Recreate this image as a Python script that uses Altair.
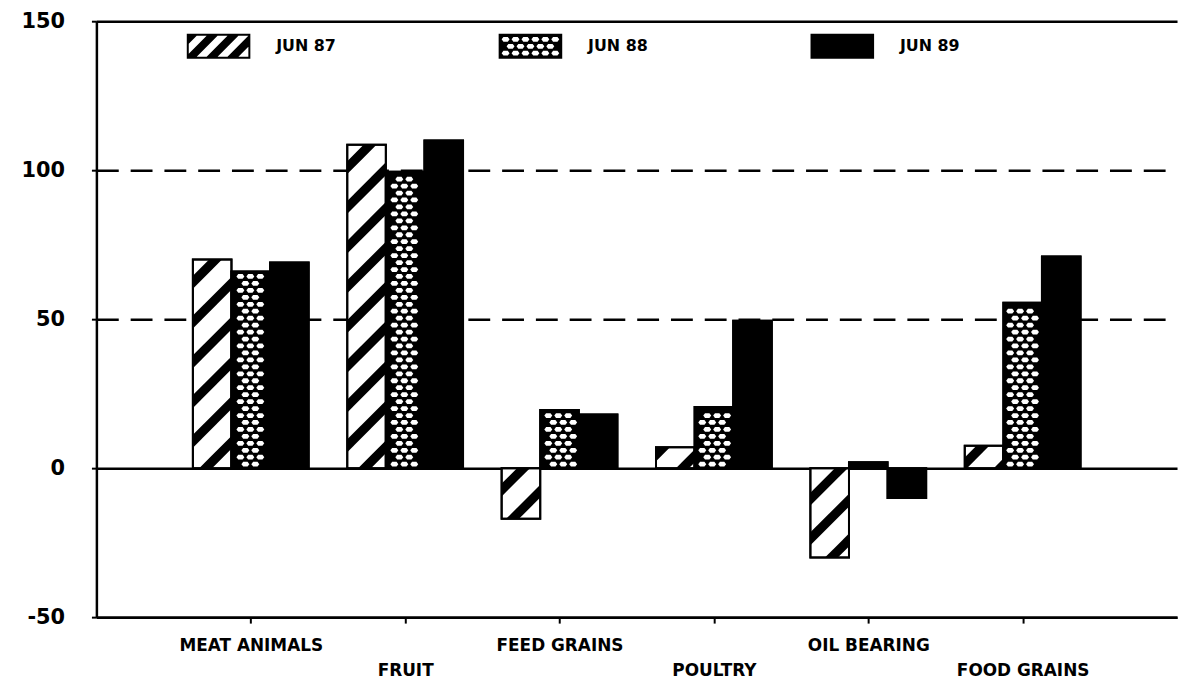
import json
import altair as alt
import numpy as np
import pandas as pd

# ---------------- data ----------------
categories = ["MEAT ANIMALS", "FRUIT", "FEED GRAINS", "POULTRY", "OIL BEARING", "FOOD GRAINS"]
series = ["JUN 87", "JUN 88", "JUN 89"]
jun87 = [70, 108.5, -17, 7, -30, 7.5]
jun88 = [66, 99.5, 19.5, 20.5, 2, 55.5]
jun89 = [69, 110, 18, 49.5, -10, 71]
y_ticks = [-50, 0, 50, 100, 150]

# ---------------- layout / style ----------------
W, H = 1088, 600
X_DOMAIN = [0, 7]
Y_DOMAIN = [-50, 150]
U = W / (X_DOMAIN[1] - X_DOMAIN[0])   # px per x unit
V = H / (Y_DOMAIN[1] - Y_DOMAIN[0])   # px per y unit
BAR_W = 0.25
FONT = "DejaVu Sans"

rows = []
for i, cat in enumerate(categories):
    for j, (s, vals) in enumerate(zip(series, [jun87, jun88, jun89])):
        x0 = (i + 1) - 1.5 * BAR_W + j * BAR_W
        rows.append(dict(category=cat, series=s, x=x0, xe=x0 + BAR_W, y=vals[i], y0=0))
bars = pd.DataFrame(rows)


def px(xd):
    return (xd - X_DOMAIN[0]) * U


def py(v):
    return (v - Y_DOMAIN[0]) * V


# diagonal hatch ("/") for JUN 87 bars, as filled area stripes
STEP, THICK = 40.0, 13.0
stripe_rows = []
sid = 0
for r in bars[bars.series == "JUN 87"].itertuples():
    X0, X1 = px(r.x), px(r.xe)
    lo, hi = sorted([py(0), py(r.y)])
    k0 = int(np.floor((lo - X1 - THICK) / STEP)) - 1
    k1 = int(np.ceil((hi - X0 + THICK) / STEP)) + 1
    for k in range(k0, k1 + 1):
        clo, chi = k * STEP - THICK / 2, k * STEP + THICK / 2
        xs = {X0, X1, lo - clo, hi - clo, lo - chi, hi - chi}
        xs = sorted(x for x in xs if X0 - 1e-9 <= x <= X1 + 1e-9)
        pts = []
        for x in xs:
            a = max(lo, x + clo)
            b = min(hi, x + chi)
            if a <= b + 1e-9:
                pts.append((x, a, max(a, b)))
        if len(pts) >= 2:
            for x, a, b in pts:
                stripe_rows.append(dict(sid=sid, x=x / U + X_DOMAIN[0],
                                        y=a / V + Y_DOMAIN[0], ye=b / V + Y_DOMAIN[0]))
            sid += 1
stripes = pd.DataFrame(stripe_rows)

# cross-hatch texture for JUN 88 bars: white holes on black
HDX, HDY, HW, HH, HM = 10.0, 7.0, 8.0, 4.8, 1.6
hole_rows = []
for r in bars[bars.series == "JUN 88"].itertuples():
    X0, X1 = px(r.x), px(r.xe)
    lo, hi = sorted([py(0), py(r.y)])
    for row in range(int(lo // HDY) - 1, int(hi // HDY) + 2):
        yc = row * HDY
        if yc - HH / 2 < lo + HM or yc + HH / 2 > hi - HM:
            continue
        off = (row % 2) * HDX / 2
        for col in range(int(X0 // HDX) - 1, int(X1 // HDX) + 2):
            xc = col * HDX + off
            if xc - HW / 2 < X0 + HM or xc + HW / 2 > X1 - HM:
                continue
            hole_rows.append(dict(x=xc / U + X_DOMAIN[0], y=yc / V + Y_DOMAIN[0]))
holes = pd.DataFrame(hole_rows)
HOLE_PATH = "M-1,0L-0.55,-0.6L0.55,-0.6L1,0L0.55,0.6L-0.55,0.6Z"


# ---------------- legend swatch paths ----------------
def clip_poly(poly, xmin, xmax, ymin, ymax):
    def clip(poly, inside, inter):
        out = []
        for i in range(len(poly)):
            cur, prev = poly[i], poly[i - 1]
            if inside(cur):
                if not inside(prev):
                    out.append(inter(prev, cur))
                out.append(cur)
            elif inside(prev):
                out.append(inter(prev, cur))
        return out

    def ix(xc):
        return lambda p, q: (xc, p[1] + (q[1] - p[1]) * (xc - p[0]) / (q[0] - p[0]))

    def iy(yc):
        return lambda p, q: (p[0] + (q[0] - p[0]) * (yc - p[1]) / (q[1] - p[1]), yc)

    for inside, inter in [(lambda p: p[0] >= xmin, ix(xmin)), (lambda p: p[0] <= xmax, ix(xmax)),
                          (lambda p: p[1] >= ymin, iy(ymin)), (lambda p: p[1] <= ymax, iy(ymax))]:
        if not poly:
            return poly
        poly = clip(poly, inside, inter)
    return poly


def area2(poly):
    return sum(poly[i - 1][0] * poly[i][1] - poly[i][0] * poly[i - 1][1] for i in range(len(poly)))


def orient(poly, positive=True):
    if (area2(poly) > 0) != positive:
        poly = poly[::-1]
    return poly


SYM = 64.0          # legend symbol width in px
R = SYM / 2


def to_path(polys):
    out = []
    for p in polys:
        out.append("M" + "L".join(f"{x / R:.4f},{y / R:.4f}" for x, y in p) + "Z")
    return "".join(out)


SW_H = 12.5
FR = 2.0
outer = orient([(-R, -SW_H), (R, -SW_H), (R, SW_H), (-R, SW_H)], True)
inner = orient([(-R + FR, -SW_H + FR), (R - FR, -SW_H + FR), (R - FR, SW_H - FR), (-R + FR, SW_H - FR)], False)

# JUN 87 swatch: frame + "/" stripes
polys87 = [outer, inner]
for k in range(-4, 5):
    x0 = k * 21 + 4
    p = [(x0 + 30 - 5.5, -30), (x0 + 30 + 5.5, -30), (x0 - 30 + 5.5, 30), (x0 - 30 - 5.5, 30)]
    p = clip_poly(p, -R + FR, R - FR, -SW_H + FR, SW_H - FR)
    if len(p) >= 3:
        polys87.append(orient(p, True))
path87 = to_path(polys87)

# JUN 88 swatch: solid with holes
polys88 = [outer]
for row in range(-1, 2):
    yc = row * HDY
    off = (row % 2) * HDX / 2
    for col in range(-4, 5):
        xc = col * HDX + off
        if abs(xc) + HW / 2 > R - FR - 1:
            continue
        hx, hy = HW / 2, HH / 2
        hexa = [(xc - hx, yc), (xc - 0.55 * hx, yc - hy), (xc + 0.55 * hx, yc - hy),
                (xc + hx, yc), (xc + 0.55 * hx, yc + hy), (xc - 0.55 * hx, yc + hy)]
        polys88.append(orient(hexa, False))
path88 = to_path(polys88)

# JUN 89 swatch: solid
path89 = to_path([outer])

# ---------------- encodings ----------------
arr = json.dumps(categories)
label_expr = (f"datum.value % 2 == 0 ? [' ', {arr}[datum.value - 1]] : {arr}[datum.value - 1]")

x_scale = alt.Scale(domain=X_DOMAIN, nice=False, zero=False)
y_scale = alt.Scale(domain=Y_DOMAIN, nice=False, zero=False)

x_axis = alt.Axis(values=[1, 2, 3, 4, 5, 6], labelExpr=label_expr, grid=False,
                  domainColor="black", domainWidth=2.5, tickColor="black", tickWidth=2,
                  tickSize=6, labelFont=FONT, labelFontSize=17, labelFontWeight="bold",
                  labelColor="black", labelPadding=15, labelLineHeight=25,
                  labelOverlap=False, labelFlush=False, labelBaseline="top")
y_axis = alt.Axis(values=y_ticks, grid=True, gridColor="black", gridWidth=2.5, gridOpacity=1,
                  gridDash={"condition": {"test": "datum.value == 50 || datum.value == 100",
                                          "value": [22, 12]}, "value": []},
                  labelExpr="'' + datum.value",
                  domainColor="black", domainWidth=2.5, tickColor="black", tickWidth=2,
                  tickSize=5, labelFont=FONT, labelFontSize=21, labelFontWeight="bold",
                  labelColor="black", labelPadding=27)

X = alt.X("x:Q", scale=x_scale, axis=x_axis, title=None)
Y = alt.Y("y:Q", scale=y_scale, axis=y_axis, title=None)

bar_layer = alt.Chart(bars).mark_bar(stroke="black", strokeWidth=2).encode(
    x=X, x2=alt.X2("xe:Q"), y=Y, y2=alt.Y2("y0:Q"),
    fill=alt.condition("datum.series == 'JUN 87'", alt.value("white"), alt.value("black")),
)

stripe_layer = alt.Chart(stripes).mark_area(color="black", opacity=1).encode(
    x=X, y=Y, y2=alt.Y2("ye:Q"), detail="sid:N"
)

hole_layer = alt.Chart(holes).mark_point(filled=True, shape=HOLE_PATH, size=HW * HW,
                                         color="white", opacity=1, strokeWidth=0).encode(
    x=X, y=Y
)

outline_layer = alt.Chart(bars).mark_bar(stroke="black", strokeWidth=2, fillOpacity=0).encode(
    x=X, x2=alt.X2("xe:Q"), y=Y, y2=alt.Y2("y0:Q")
)

legend_layer = alt.Chart(bars).transform_filter("false").mark_point(
    filled=True, color="black", opacity=1, size=SYM * SYM
).encode(
    x=X, y=Y,
    shape=alt.Shape("series:N", scale=alt.Scale(domain=series, range=[path87, path88, path89]),
                    legend=alt.Legend(title=None, orient="none", legendX=91, legendY=-7,
                                      direction="horizontal", symbolSize=SYM * SYM,
                                      symbolStrokeWidth=0, symbolFillColor="black",
                                      symbolOpacity=1, labelFont=FONT, labelFontSize=16,
                                      labelFontWeight="bold", labelColor="black",
                                      labelOffset=26, columnPadding=163, padding=0)),
)

chart = alt.layer(bar_layer, stripe_layer, hole_layer, outline_layer, legend_layer).properties(
    width=W, height=H,
    padding={"left": 89, "top": 11, "right": 4, "bottom": 62},
    autosize=alt.AutoSizeParams(type="none"),
    background="white",
).configure_view(strokeWidth=0)

chart.save("out.html", embed_options={"renderer": "svg", "actions": False})
